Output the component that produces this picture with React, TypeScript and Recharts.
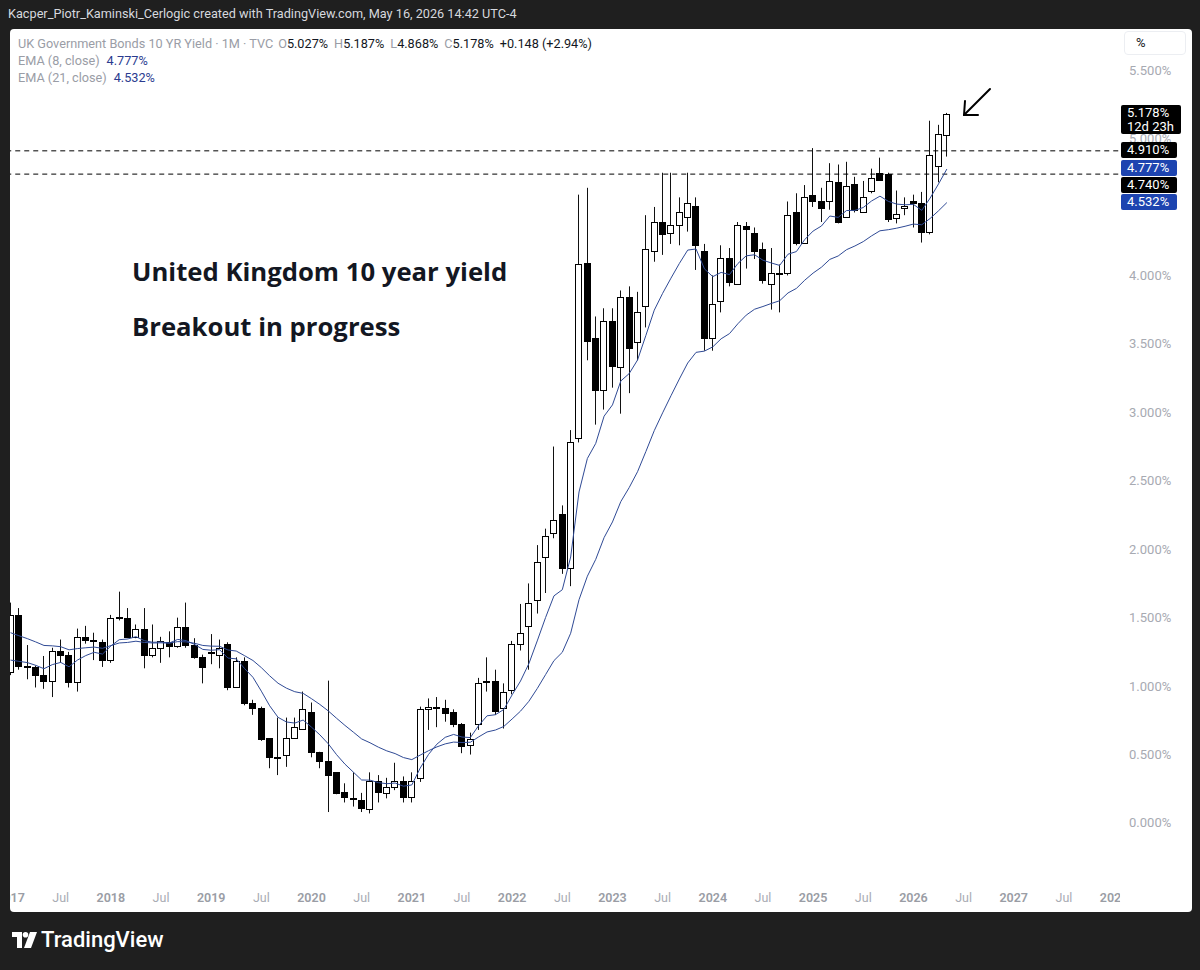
import { Bar, ComposedChart, Line, ReferenceLine, XAxis, YAxis } from "recharts";

// monthly candles, Jan 2017 .. May 2026
const firstYear = 2017;

const opens = [
  1.10, 1.52, 1.15, 1.14, 1.08, 1.04, 1.26, 1.23, 1.03, 1.36, 1.34, 1.32,
  1.19, 1.50, 1.50, 1.36, 1.42, 1.23, 1.28, 1.32, 1.29, 1.43, 1.30, 1.21,
  1.25, 1.23, 1.31, 0.99, 1.18, 0.88, 0.84, 0.62, 0.48, 0.50, 0.62, 0.69,
  0.81, 0.52, 0.45, 0.37, 0.23, 0.18, 0.17, 0.10, 0.31, 0.22, 0.26, 0.31,
  0.19, 0.33, 0.83, 0.84, 0.84, 0.81, 0.72, 0.57, 0.72, 1.03, 1.04, 0.84,
  0.97, 1.31, 1.44, 1.63, 1.94, 2.12, 2.26, 1.86, 2.81, 4.09, 3.54, 3.16,
  3.67, 3.33, 3.84, 3.51, 3.78, 4.18, 4.39, 4.31, 4.37, 4.43, 4.51, 4.18,
  3.54, 3.81, 4.13, 3.94, 4.36, 4.31, 4.19, 3.94, 4.01, 4.02, 4.46, 4.24,
  4.59, 4.54, 4.54, 4.68, 4.43, 4.67, 4.46, 4.62, 4.75, 4.74, 4.42, 4.49,
  4.54, 4.53, 4.32, 4.80, 5.027,
];

const highs = [
  1.61, 1.57, 1.30, 1.15, 1.22, 1.28, 1.34, 1.25, 1.42, 1.44, 1.39, 1.34,
  1.52, 1.69, 1.57, 1.45, 1.57, 1.45, 1.36, 1.40, 1.50, 1.61, 1.35, 1.23,
  1.38, 1.34, 1.32, 1.21, 1.21, 0.90, 0.85, 0.62, 0.77, 0.77, 0.77, 0.96,
  0.88, 0.52, 1.04, 0.37, 0.29, 0.37, 0.22, 0.37, 0.35, 0.33, 0.44, 0.34,
  0.37, 0.85, 0.91, 0.92, 0.90, 0.83, 0.73, 0.66, 1.06, 1.21, 1.12, 1.02,
  1.33, 1.60, 1.75, 2.03, 2.15, 2.75, 2.32, 2.87, 4.59, 4.64, 3.70, 3.76,
  3.76, 3.89, 3.92, 3.88, 4.44, 4.50, 4.75, 4.75, 4.57, 4.75, 4.57, 4.23,
  4.00, 4.22, 4.20, 4.39, 4.39, 4.35, 4.24, 4.20, 4.08, 4.54, 4.60, 4.66,
  4.93, 4.64, 4.82, 4.81, 4.83, 4.72, 4.69, 4.78, 4.86, 4.75, 4.62, 4.57,
  4.59, 4.61, 5.13, 5.10, 5.187,
];

const lows = [
  1.08, 1.12, 1.05, 0.99, 0.98, 0.92, 1.17, 0.99, 0.96, 1.31, 1.19, 1.14,
  1.17, 1.48, 1.35, 1.35, 1.13, 1.21, 1.17, 1.21, 1.28, 1.28, 1.20, 1.02,
  1.16, 1.13, 0.97, 0.99, 0.86, 0.79, 0.60, 0.40, 0.35, 0.41, 0.62, 0.69,
  0.48, 0.40, 0.08, 0.21, 0.15, 0.12, 0.08, 0.07, 0.15, 0.18, 0.24, 0.15,
  0.15, 0.30, 0.68, 0.70, 0.74, 0.70, 0.51, 0.50, 0.68, 0.96, 0.79, 0.69,
  0.94, 1.26, 1.12, 1.53, 1.68, 2.08, 1.82, 1.73, 2.78, 3.38, 2.91, 3.02,
  3.18, 2.99, 3.14, 3.38, 3.62, 4.10, 4.15, 4.23, 4.22, 4.32, 4.04, 3.45,
  3.45, 3.73, 3.92, 3.93, 4.05, 4.12, 3.94, 3.75, 3.73, 4.00, 4.22, 4.23,
  4.50, 4.39, 4.48, 4.38, 4.42, 4.46, 4.46, 4.60, 4.69, 4.39, 4.38, 4.44,
  4.35, 4.24, 4.30, 4.68, 4.868,
];

const closes = [
  1.52, 1.15, 1.14, 1.08, 1.04, 1.26, 1.23, 1.03, 1.36, 1.34, 1.33, 1.19,
  1.50, 1.505, 1.36, 1.42, 1.23, 1.28, 1.33, 1.29, 1.43, 1.30, 1.21, 1.14,
  1.24, 1.28, 0.99, 1.18, 0.88, 0.84, 0.61, 0.48, 0.485, 0.62, 0.70, 0.83,
  0.52, 0.45, 0.35, 0.22, 0.19, 0.175, 0.11, 0.31, 0.23, 0.26, 0.31, 0.19,
  0.31, 0.83, 0.85, 0.845, 0.80, 0.72, 0.56, 0.61, 1.02, 1.035, 0.82, 0.96,
  1.31, 1.39, 1.61, 1.91, 2.10, 2.21, 1.86, 2.78, 4.08, 3.52, 3.16, 3.67,
  3.34, 3.84, 3.47, 3.73, 4.19, 4.39, 4.30, 4.37, 4.46, 4.53, 4.22, 3.54,
  3.79, 4.13, 3.95, 4.37, 4.34, 4.18, 3.97, 4.02, 4.015, 4.44, 4.24, 4.57,
  4.54, 4.49, 4.69, 4.39, 4.65, 4.48, 4.57, 4.71, 4.70, 4.41, 4.45, 4.51,
  4.53, 4.32, 4.88, 5.03, 5.178,
];

const ema8 = [
  1.190, 1.181, 1.172, 1.152, 1.127, 1.157, 1.173, 1.141, 1.190, 1.223, 1.247, 1.234,
  1.293, 1.339, 1.344, 1.361, 1.332, 1.320, 1.322, 1.315, 1.341, 1.332, 1.305, 1.268,
  1.262, 1.266, 1.205, 1.199, 1.128, 1.064, 0.963, 0.856, 0.772, 0.738, 0.730, 0.752,
  0.700, 0.644, 0.579, 0.499, 0.430, 0.372, 0.314, 0.313, 0.295, 0.287, 0.292, 0.269,
  0.278, 0.401, 0.501, 0.576, 0.626, 0.647, 0.628, 0.624, 0.712, 0.783, 0.791, 0.829,
  0.936, 1.037, 1.164, 1.330, 1.501, 1.659, 1.704, 1.943, 2.418, 2.663, 2.773, 2.972,
  3.054, 3.229, 3.283, 3.382, 3.562, 3.746, 3.869, 3.980, 4.087, 4.185, 4.193, 4.048,
  3.991, 4.022, 4.006, 4.087, 4.143, 4.151, 4.111, 4.091, 4.073, 4.155, 4.174, 4.262,
  4.324, 4.361, 4.434, 4.424, 4.474, 4.475, 4.496, 4.544, 4.579, 4.541, 4.521, 4.516,
  4.519, 4.475, 4.565, 4.668, 4.777,
];

const ema21 = [
  1.390, 1.368, 1.347, 1.323, 1.297, 1.294, 1.288, 1.265, 1.274, 1.280, 1.285, 1.276,
  1.296, 1.315, 1.319, 1.328, 1.319, 1.315, 1.316, 1.314, 1.325, 1.323, 1.313, 1.297,
  1.292, 1.291, 1.264, 1.256, 1.222, 1.187, 1.135, 1.075, 1.021, 0.985, 0.959, 0.947,
  0.908, 0.866, 0.819, 0.765, 0.713, 0.664, 0.614, 0.586, 0.554, 0.527, 0.507, 0.478,
  0.463, 0.496, 0.528, 0.556, 0.578, 0.591, 0.588, 0.590, 0.629, 0.665, 0.679, 0.705,
  0.760, 0.817, 0.889, 0.982, 1.084, 1.186, 1.247, 1.386, 1.631, 1.803, 1.926, 2.085,
  2.199, 2.348, 2.450, 2.566, 2.714, 2.866, 2.996, 3.121, 3.243, 3.360, 3.438, 3.447,
  3.478, 3.537, 3.575, 3.647, 3.710, 3.753, 3.773, 3.795, 3.815, 3.872, 3.905, 3.965,
  4.017, 4.060, 4.117, 4.142, 4.188, 4.215, 4.247, 4.289, 4.326, 4.334, 4.345, 4.359,
  4.375, 4.370, 4.416, 4.472, 4.532,
];

// 4.5% sits under the price badges, so it is left out like in the original
const priceTicks = [0, 0.5, 1, 1.5, 2, 2.5, 3, 3.5, 4, 5, 5.5];
const levels = [4.91, 4.74];

// one slot per month, Dec 2016 .. Jan 2028
const rows: any[] = [];
for (let m = -1; m <= 132; m++) {
  const has = m >= 0 && m < closes.length;
  rows.push({
    m,
    range: has ? [lows[m], highs[m]] : null,
    open: has ? opens[m] : null,
    high: has ? highs[m] : null,
    low: has ? lows[m] : null,
    close: has ? closes[m] : null,
    ema8: has ? ema8[m] : null,
    ema21: has ? ema21[m] : null,
  });
}

const OX = 2.04; // svg x = page x + OX
const FONT = "Roboto, 'Noto Sans', sans-serif";
const BLUE = "#1d44b0";
const EMA_COLOR = "#2f4a95";

const Candle = (props: any) => {
  const { x, y, width, height, payload } = props;
  if (!payload || payload.open == null || !height) return <g />;
  const { open, close, high, low } = payload;
  const top = Math.min(y, y + height);
  const h = Math.abs(height);
  const ppu = h / (high - low);
  const yOf = (v: number) => top + (high - v) * ppu;
  const cx = Math.floor(x + width / 2) + 0.5;
  const up = close >= open;
  let bTop = Math.round(yOf(Math.max(open, close))) + 0.5;
  let bBot = Math.round(yOf(Math.min(open, close))) + 0.5;
  if (bBot - bTop < 1) bBot = bTop + 1;
  return (
    <g>
      <line x1={cx} x2={cx} y1={top} y2={top + h} stroke="#111" strokeWidth={1} />
      <rect x={cx - 3} y={bTop} width={6} height={bBot - bTop} fill={up ? "#fff" : "#000"} stroke="#000" strokeWidth={1} />
    </g>
  );
};

const XTick = (props: any) => {
  const { x, payload, index } = props;
  const m = Number(payload.value);
  const mo = ((m % 12) + 12) % 12;
  if (mo !== 0 && mo !== 6) return <g />;
  const isYear = mo === 0;
  const label = isYear ? String(firstYear + Math.floor(m / 12)) : "Jul";
  const id = `xclip-${index}`;
  return (
    <g>
      <defs>
        <clipPath id={id}>
          <rect x={0} y={880} width={1120 + OX} height={40} />
        </clipPath>
      </defs>
      <text
        x={x}
        y={897}
        textAnchor="middle"
        dominantBaseline="central"
        clipPath={`url(#${id})`}
        fontFamily={FONT}
        fontSize={12.5}
        fontWeight={isYear ? 600 : 400}
        fill={isYear ? "#9a9da5" : "#a9acb4"}
      >
        {label}
      </text>
    </g>
  );
};

const YTick = (props: any) => {
  const { y, payload } = props;
  return (
    <text x={1129 + OX} y={y} dominantBaseline="central" fontFamily={FONT} fontSize={13} fill="#a7aab2">
      {Number(payload.value).toFixed(3)}%
    </text>
  );
};

const badge = (top: number, bg: string, text: string) => (
  <div
    style={{
      position: "absolute",
      left: 1121 - 10,
      top: top - 29,
      width: 56,
      height: 16,
      background: bg,
      color: "#fff",
      fontSize: 13,
      lineHeight: "16px",
      paddingLeft: 6,
      boxSizing: "border-box",
      borderRadius: 2,
    }}
  >
    {text}
  </div>
);

const gray = "#9a9da6";
const dark = "#131722";
const navy = "#2a3b8f";

export default function App() {
  return (
    <div
      style={{
        position: "absolute",
        left: 0,
        top: 0,
        width: 1200,
        height: 970,
        background: "#1f1f1f",
        overflow: "hidden",
        fontFamily: FONT,
      }}
    >
      <div style={{ position: "absolute", left: 8, top: 6, color: "#d6d8de", fontSize: 12.7, lineHeight: "16px", whiteSpace: "nowrap" }}>
        Kacper_Piotr_Kaminski_Cerlogic created with TradingView.com, May 16, 2026 14:42 UTC-4
      </div>

      <div
        style={{
          position: "absolute",
          left: 10,
          top: 29,
          width: 1182,
          height: 883,
          background: "#fff",
          borderRadius: 4,
          overflow: "hidden",
        }}
      >
        <div style={{ position: "absolute", left: -10 - OX, top: -29 }}>
          <ComposedChart width={1196} height={970} data={rows} margin={{ top: 29, right: 0, bottom: 60, left: 0 }}>
            <XAxis
              dataKey="m"
              type="category"
              interval={0}
              tick={<XTick />}
              tickLine={false}
              axisLine={false}
              height={28}
            />
            <YAxis
              orientation="right"
              type="number"
              domain={[-0.431, 5.8]}
              ticks={priceTicks}
              interval={0}
              allowDataOverflow
              width={75.76}
              tick={<YTick />}
              tickLine={false}
              axisLine={false}
            />
            {levels.map((v) => (
              <ReferenceLine key={v} y={v} stroke="#000" strokeWidth={1} strokeDasharray="5 4" />
            ))}
            <Line type="linear" dataKey="ema21" stroke={EMA_COLOR} strokeWidth={1} dot={false} isAnimationActive={false} />
            <Line type="linear" dataKey="ema8" stroke={EMA_COLOR} strokeWidth={1} dot={false} isAnimationActive={false} />
            <Bar dataKey="range" barSize={6} shape={<Candle />} isAnimationActive={false} />
          </ComposedChart>
        </div>

        {/* legend */}
        <div style={{ position: "absolute", left: 8, top: 7, fontSize: 12.7, lineHeight: "16px", whiteSpace: "nowrap", color: gray }}>
          <div>
            UK Government Bonds 10 YR Yield · 1M · TVC
            <span style={{ marginLeft: 5 }}>O</span><span style={{ color: dark }}>5.027%</span>
            <span style={{ marginLeft: 6 }}>H</span><span style={{ color: dark }}>5.187%</span>
            <span style={{ marginLeft: 6 }}>L</span><span style={{ color: dark }}>4.868%</span>
            <span style={{ marginLeft: 6 }}>C</span><span style={{ color: dark }}>5.178%</span>
            <span style={{ marginLeft: 6, color: dark }}>+0.148 (+2.94%)</span>
          </div>
          <div style={{ marginTop: 1 }}>
            EMA (8, close)<span style={{ marginLeft: 7, color: navy }}>4.777%</span>
          </div>
          <div style={{ marginTop: 1 }}>
            EMA (21, close)<span style={{ marginLeft: 7, color: navy }}>4.532%</span>
          </div>
        </div>

        {/* annotation */}
        <div style={{ position: "absolute", left: 122, top: 272 - 29 - 17, fontSize: 25.7, lineHeight: "34px", fontWeight: 700, color: dark, whiteSpace: "nowrap", fontFamily: "'Open Sans', Roboto, sans-serif" }}>
          United Kingdom 10 year yield
        </div>
        <div style={{ position: "absolute", left: 122, top: 327 - 29 - 17, fontSize: 25.7, lineHeight: "34px", fontWeight: 700, color: dark, whiteSpace: "nowrap", fontFamily: "'Open Sans', Roboto, sans-serif" }}>
          Breakout in progress
        </div>

        <svg style={{ position: "absolute", left: 0, top: 0 }} width={1182} height={883}>
          <g transform="translate(-10,-29)" stroke="#000" strokeWidth={2} fill="none" strokeLinecap="round">
            <line x1={990} y1={89} x2={964} y2={115} />
            <line x1={964} y1={115} x2={965} y2={101} />
            <line x1={964} y1={115} x2={978} y2={115} />
          </g>
        </svg>

        {/* unit box */}
        <div
          style={{
            position: "absolute",
            left: 1124 - 10,
            top: 31 - 29,
            width: 62,
            height: 24,
            border: "1px solid #eceef2",
            borderRadius: 4,
            boxSizing: "border-box",
            fontSize: 13,
            lineHeight: "22px",
            paddingLeft: 11,
            color: dark,
          }}
        >
          %
        </div>

        {/* price badges */}
        <div
          style={{
            position: "absolute",
            left: 1121 - 10,
            top: 105 - 29,
            width: 60,
            height: 29,
            background: "#000",
            color: "#fff",
            fontSize: 13,
            lineHeight: "14px",
            paddingLeft: 6,
            paddingTop: 1,
            boxSizing: "border-box",
            borderRadius: 2,
          }}
        >
          <div>5.178%</div>
          <div>12d 23h</div>
        </div>
        {badge(142, "#000", "4.910%")}
        {badge(160, BLUE, "4.777%")}
        {badge(177, "#000", "4.740%")}
        {badge(194, BLUE, "4.532%")}
      </div>

      {/* footer logo */}
      <svg style={{ position: "absolute", left: 12, top: 932 }} width={25} height={16}>
        <path d="M0 0 H10 V16 H5 V5 H0 Z" fill="#fff" />
        <circle cx={13.5} cy={2.8} r={2.8} fill="#fff" />
        <path d="M18 0 H25 L19 16 H12 Z" fill="#fff" />
      </svg>
      <div style={{ position: "absolute", left: 41, top: 925, fontSize: 22, lineHeight: "30px", fontWeight: 500, color: "#fff", whiteSpace: "nowrap" }}>
        TradingView
      </div>
    </div>
  );
}
